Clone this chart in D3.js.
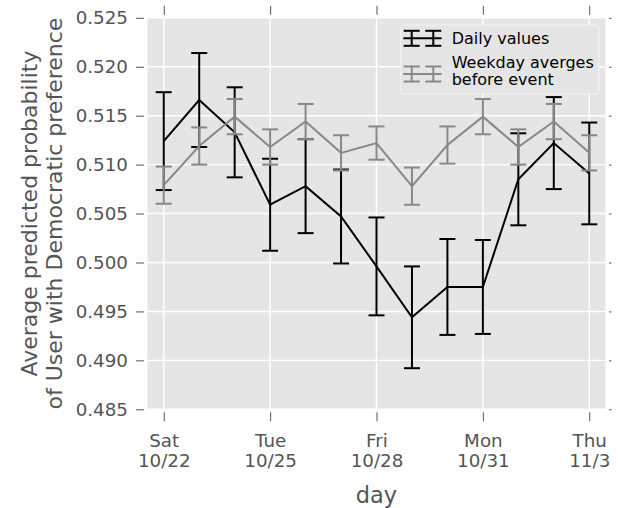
<!DOCTYPE html>
<html>
<head>
<meta charset="utf-8">
<script src="https://cdn.jsdelivr.net/npm/d3@7"></script>
<style>
  body { margin: 0; background: #fff; }
  svg { display: block; font-family: "DejaVu Sans", sans-serif; }
</style>
</head>
<body>
<div id="chart"></div>
<script>
// days shown on the x axis (2016)
const days = ["2016-10-22", "2016-10-23", "2016-10-24", "2016-10-25", "2016-10-26", "2016-10-27", "2016-10-28",
              "2016-10-29", "2016-10-30", "2016-10-31", "2016-11-01", "2016-11-02", "2016-11-03"];
const dailyValues = [0.5124, 0.5166, 0.5133, 0.5059, 0.5078, 0.5047, 0.4996, 0.4944, 0.4975, 0.4975, 0.5085, 0.5122, 0.5091];
const dailyErrors = [0.0050, 0.0048, 0.0046, 0.0047, 0.0048, 0.0048, 0.0050, 0.0052, 0.0049, 0.0048, 0.0047, 0.0047, 0.0052];
const weekdayValues = [0.5079, 0.5119, 0.5149, 0.5118, 0.5144, 0.5112, 0.5122, 0.5078, 0.5120, 0.5149, 0.5118, 0.5144, 0.5112];
const weekdayErrors = [0.0019, 0.0019, 0.0018, 0.0018, 0.0018, 0.0018, 0.0017, 0.0019, 0.0019, 0.0018, 0.0018, 0.0018, 0.0018];
const xTickDays = ["2016-10-22", "2016-10-25", "2016-10-28", "2016-10-31", "2016-11-03"];
const yTicks = [0.485, 0.490, 0.495, 0.500, 0.505, 0.510, 0.515, 0.520, 0.525];
const seriesNames = ["Daily values", ["Weekday averges", "before event"]];

const width = 618, height = 508;
const plot = {left: 147.5, right: 605.5, top: 17.8, bottom: 409.3};
const tickColor = "#555555";

const parse = d3.utcParse("%Y-%m-%d");
const dates = days.map(parse);

const x = d3.scaleUtc()
    .domain([d3.utcHour.offset(dates[0], -11), d3.utcHour.offset(dates[dates.length - 1], 11.5)])
    .range([plot.left, plot.right]);
const y = d3.scaleLinear()
    .domain([0.485, 0.525])
    .range([plot.bottom, plot.top]);

const svg = d3.select("#chart").append("svg")
    .attr("width", width)
    .attr("height", height)
    .attr("viewBox", `0 0 ${width} ${height}`);

// background + grid
svg.append("rect")
    .attr("x", plot.left).attr("y", plot.top)
    .attr("width", plot.right - plot.left).attr("height", plot.bottom - plot.top)
    .attr("fill", "#e5e5e5");

const grid = svg.append("g").attr("stroke", "#fff").attr("stroke-width", 1.4);
grid.selectAll(".gy").data(yTicks).join("line")
    .attr("x1", plot.left).attr("x2", plot.right)
    .attr("y1", d => y(d)).attr("y2", d => y(d));
grid.selectAll(".gx").data(xTickDays.map(parse)).join("line")
    .attr("x1", d => x(d)).attr("x2", d => x(d))
    .attr("y1", plot.top).attr("y2", plot.bottom);

// axes (ticks sit a little outside the plot box)
const styleAxis = g => {
    g.select(".domain").remove();
    g.selectAll(".tick line").attr("stroke", tickColor).attr("stroke-width", 1);
    g.selectAll("text").attr("fill", tickColor).attr("font-family", "DejaVu Sans");
};

svg.append("g")
    .attr("transform", `translate(${plot.left - 3.5},0)`)
    .call(d3.axisLeft(y).tickValues(yTicks).tickFormat(d3.format(".3f")).tickSize(8).tickPadding(8))
    .call(styleAxis)
    .call(g => g.selectAll("text").attr("font-size", 18.3));

svg.append("g")
    .attr("transform", `translate(${plot.right + 3.5},0)`)
    .call(d3.axisRight(y).tickValues(yTicks).tickFormat("").tickSize(2.5))
    .call(styleAxis);

svg.append("g")
    .attr("transform", `translate(0,${plot.top - 3})`)
    .call(d3.axisTop(x).tickValues(xTickDays.map(parse)).tickFormat("").tickSize(9))
    .call(styleAxis);

const xAxis = svg.append("g")
    .attr("transform", `translate(0,${plot.bottom + 3})`)
    .call(d3.axisBottom(x).tickValues(xTickDays.map(parse)).tickFormat("").tickSize(9))
    .call(styleAxis);

const dow = d3.utcFormat("%a");
const md = d => `${d.getUTCMonth() + 1}/${d.getUTCDate()}`;
xAxis.selectAll(".tick").each(function(d) {
    const t = d3.select(this).select("text")
        .attr("y", null).attr("dy", null)
        .attr("font-size", 18.3).attr("text-anchor", "middle");
    t.append("tspan").attr("x", 0).attr("y", 446.7 - plot.bottom - 3).text(dow(d));
    t.append("tspan").attr("x", 0).attr("y", 466.7 - plot.bottom - 3).text(md(d));
});

// axis labels
svg.append("text")
    .attr("x", (plot.left + plot.right) / 2).attr("y", 503)
    .attr("text-anchor", "middle").attr("font-size", 22.5).attr("fill", tickColor)
    .text("day");

const yLabel = ["Average predicted probability", "of User with Democratic preference"];
svg.selectAll(".ylab").data(yLabel).join("text")
    .attr("transform", (d, i) => `translate(${37 + i * 25},${(plot.top + plot.bottom) / 2}) rotate(-90)`)
    .attr("text-anchor", "middle").attr("font-size", 22).attr("fill", tickColor)
    .text(d => d);

// error bar series
const capHalf = 8;
function drawSeries(values, errors, color) {
    const g = svg.append("g").attr("stroke", color).attr("stroke-width", 2).attr("fill", "none");
    g.append("path")
        .attr("d", d3.line().x((d, i) => x(dates[i])).y(d => y(d))(values));
    const bars = g.selectAll(".bar").data(values).join("g");
    bars.append("line")
        .attr("x1", (d, i) => x(dates[i])).attr("x2", (d, i) => x(dates[i]))
        .attr("y1", (d, i) => y(d - errors[i])).attr("y2", (d, i) => y(d + errors[i]));
    [-1, 1].forEach(s => {
        bars.append("line")
            .attr("x1", (d, i) => x(dates[i]) - capHalf).attr("x2", (d, i) => x(dates[i]) + capHalf)
            .attr("y1", (d, i) => y(d + s * errors[i])).attr("y2", (d, i) => y(d + s * errors[i]));
    });
}
drawSeries(dailyValues, dailyErrors, "#000000");
drawSeries(weekdayValues, weekdayErrors, "#888888");

// legend
const legend = svg.append("g");
legend.append("rect")
    .attr("x", 400.7).attr("y", 25).attr("width", 198.3).attr("height", 69).attr("rx", 3)
    .attr("fill", "#e5e5e5").attr("stroke", "#f3f3f3").attr("stroke-width", 1);

const legendItems = [
    {name: seriesNames[0], color: "#000000", cy: 38.3, baselines: [44]},
    {name: seriesNames[1], color: "#888888", cy: 74, baselines: [67.7, 85]}
];
legendItems.forEach(item => {
    const h = legend.append("g").attr("stroke", item.color).attr("stroke-width", 2);
    h.append("line").attr("x1", 403.3).attr("x2", 441.5).attr("y1", item.cy).attr("y2", item.cy);
    [411.7, 433.3].forEach(cx => {
        h.append("line").attr("x1", cx).attr("x2", cx).attr("y1", item.cy - 7.5).attr("y2", item.cy + 7.5);
        h.append("line").attr("x1", cx - capHalf).attr("x2", cx + capHalf).attr("y1", item.cy - 7.5).attr("y2", item.cy - 7.5);
        h.append("line").attr("x1", cx - capHalf).attr("x2", cx + capHalf).attr("y1", item.cy + 7.5).attr("y2", item.cy + 7.5);
    });
    const lines = Array.isArray(item.name) ? item.name : [item.name];
    lines.forEach((txt, i) => {
        legend.append("text")
            .attr("x", 451.7).attr("y", item.baselines[i])
            .attr("font-size", 16).attr("fill", "#000")
            .text(txt);
    });
});
</script>
</body>
</html>
